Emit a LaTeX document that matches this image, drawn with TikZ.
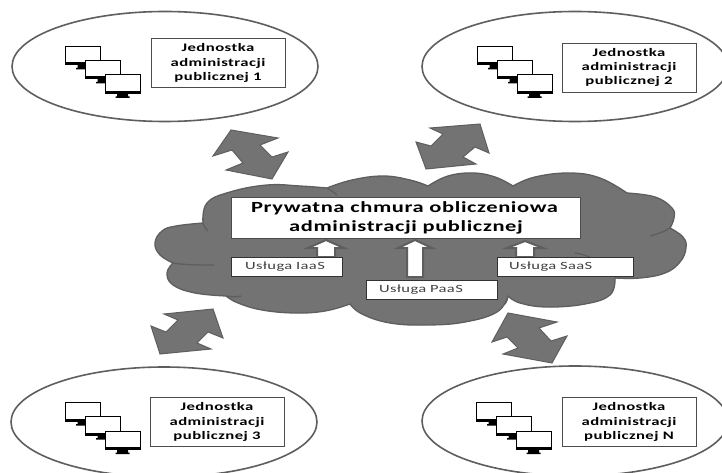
\documentclass[tikz,border=0pt]{standalone}
\usepackage{fontspec}
\setmainfont{Carlito}
\newfontfamily\wideb[FakeStretch=1.45,LetterSpace=4]{Carlito Bold}
\newfontfamily\wider[FakeStretch=1.5,LetterSpace=4]{Carlito}
\usetikzlibrary{shapes.geometric}
\definecolor{cloudfill}{gray}{0.45}
\definecolor{cloudline}{gray}{0.37}
\definecolor{arrowfill}{gray}{0.45}
\definecolor{boxline}{gray}{0.3}
\tikzset{
  unitell/.style={draw=cloudline,line width=1.6pt,ellipse,fill=white,inner sep=0pt,outer sep=0pt,minimum width=306pt,minimum height=110pt},
  unitbox/.style={draw=boxline,line width=0.9pt,fill=white,inner sep=0pt,outer sep=0pt,minimum width=134pt,minimum height=49pt,align=center,font=\wideb\fontsize{11.5}{14.2}\selectfont},
  mainbox/.style={draw=boxline,line width=0.9pt,fill=white,inner sep=0pt,outer sep=0pt,minimum width=349pt,minimum height=41pt,align=center,font=\wideb\fontsize{15.5}{19}\selectfont},
  svcbox/.style={draw=black!80,line width=0.9pt,fill=white,inner sep=0pt,outer sep=0pt,minimum height=19pt,font=\wider\fontsize{11}{13}\selectfont,text=black!75},
  bigarrow/.style={draw=cloudline,line width=1pt,fill=arrowfill,line join=miter},
  uparrow/.style={draw=cloudline,line width=2pt,fill=white,line join=miter},
  crease/.style={draw=cloudline,line width=1.3pt},
  monitor/.pic={
    \fill[black] (-0,16.5) rectangle (36,19.5);
    \draw[black,line width=1pt,fill=white] (0.5,0.5) rectangle (35.5,17);
    \fill[black] (12.5,19) rectangle (23.5,22) (11,22) rectangle (25,23.5);
  }
}
\newcommand{\monitors}[3]{%
  \pic at (#1,#2) {monitor};
  \pic at (#1+20,#2+14) {monitor};
  \pic at (#1+39.5,#2+28.5) {monitor};
}
\begin{document}
\begin{tikzpicture}[x=1pt,y=-1pt]
\clip (0,0) rectangle (722,473);
\fill[white] (0,0) rectangle (722,473);

% outer units
\node[unitell] (e1) at (165,66.5) {};
\node[unitell] (e2) at (575,66.5) {};
\node[unitell] (e3) at (164,422) {};
\node[unitell] (e4) at (575,421) {};

\monitors{65}{46}{}
\monitors{477}{46}{}
\monitors{65}{402}{}
\monitors{476}{402}{}

\node[unitbox] (u1) at (218,63) {Jednostka\\administracji\\publicznej 1};
\node[unitbox] (u2) at (629,67.5) {Jednostka\\administracji\\publicznej 2};
\node[unitbox] (u3) at (217,422) {Jednostka\\administracji\\publicznej 3};
\node[unitbox] (u4) at (629,422) {Jednostka\\administracji\\publicznej N};

% cloud
\draw[draw=cloudline,line width=1.3pt,fill=cloudfill,line join=round]
  plot[smooth,tension=0.7] coordinates {(203,223)(207,203)(230,192)(267,185)(300,186)(327,188)}
  -- plot[smooth,tension=0.7] coordinates {(327,188)(352,180)(383,176)(410,180)(428,186)}
  -- plot[smooth,tension=0.7] coordinates {(428,186)(448,176)(473,173)(495,177)(513,186)}
  -- plot[smooth,tension=0.7] coordinates {(513,186)(535,177)(570,173)(600,178)(627,193)}
  -- plot[smooth,tension=0.7] coordinates {(627,193)(655,197)(672,208)(674,218)(670,228)}
  -- plot[smooth,tension=0.7] coordinates {(670,228)(683,237)(686,248)(680,262)(665,273)(640,278)(615,278)}
  -- plot[smooth,tension=0.7] coordinates {(615,278)(610,295)(585,304)(547,307)(520,303)(508,296)}
  -- plot[smooth,tension=0.7] coordinates {(508,296)(497,312)(465,322)(427,325)(390,323)(362,314)(350,304)}
  -- plot[smooth,tension=0.7] coordinates {(350,304)(325,311)(295,313)(262,310)(238,303)(226,296)}
  -- plot[smooth,tension=0.7] coordinates {(226,296)(195,293)(173,285)(167,273)(173,263)}
  -- plot[smooth,tension=0.7] coordinates {(173,263)(160,255)(155,243)(162,231)(176,226)(203,223)}
  -- cycle;
\draw[crease] (173,263) .. controls (185,265) and (200,265) .. (214,265);
\draw[crease] (226,296) .. controls (232,297) and (237,297) .. (241,296);
\draw[crease] (203,223) .. controls (204,227) and (206,229) .. (208,231);
\draw[crease] (327,188) .. controls (330,190) and (334,192) .. (337,195);
\draw[crease] (670,228) .. controls (664,232) and (657,234) .. (650,236);
\draw[crease] (575,253) .. controls (582,254) and (589,256) .. (595,260);
\draw[crease] (508,296) .. controls (508,298) and (507,301) .. (505,304);

% double arrows
\draw[bigarrow] (231,130)--(278,138)--(260,145)--(272,157)--(288,152)--(272,179)--(226,170)--(243,163)--(232,150)--(213,156)--cycle;
\draw[bigarrow] (480,124)--(489,153)--(475,147)--(463,157)--(476,164)--(426,169)--(416,142)--(431,146)--(443,134)--(430,128)--cycle;
\draw[bigarrow] (213,309)--(223,338)--(208,332)--(197,343)--(211,349)--(160,354)--(151,326)--(166,332)--(178,320)--(164,314)--cycle;
\draw[bigarrow] (508,313)--(557,322)--(539,328)--(551,341)--(567,336)--(552,363)--(503,354)--(518,348)--(507,337)--(492,342)--cycle;

% small up arrows
\draw[uparrow] (326,240)--(344,248)--(335,248)--(335,257)--(317,257)--(317,248)--(308,248)--cycle;
\draw[uparrow] (415,240)--(432,248)--(423,248)--(423,277)--(407,277)--(407,248)--(398,248)--cycle;
\draw[uparrow] (525,241)--(543,248)--(534,248)--(534,257)--(516,257)--(516,248)--(507,248)--cycle;

% main and service boxes
\node[mainbox] (main) at (406,217.5) {\hspace*{-3pt}Prywatna chmura obliczeniowa\\administracji publicznej};
\node[svcbox,minimum width=111pt,text width=83pt,align=left] (iaas) at (286.5,267) {Usługa IaaS};
\node[svcbox,minimum width=131pt,text width=105pt,align=left] (paas) at (431.5,289.5) {Usługa PaaS};
\node[svcbox,minimum width=136pt,text width=112pt,align=left] (saas) at (565,267) {Usługa SaaS};
\end{tikzpicture}
\end{document}
